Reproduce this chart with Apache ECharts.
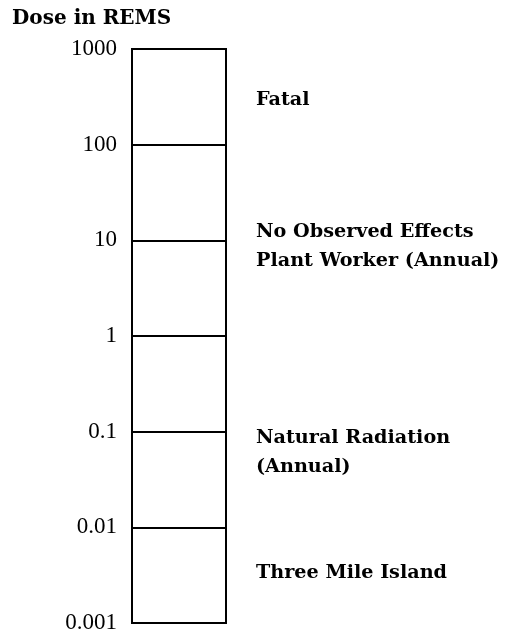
<!DOCTYPE html>
<html>
<head>
<meta charset="utf-8">
<script src="https://cdn.jsdelivr.net/npm/echarts@6/dist/echarts.min.js"></script>
<style>
  html, body { margin: 0; padding: 0; background: #fff; }
  #chart { width: 506px; height: 640px; }
</style>
</head>
<body>
<div id="chart"></div>
<script>
// dose scale (rems), log axis from 0.001 to 1000
const doseMin = 0.001;
const doseMax = 1000;

// annotations placed to the right of the scale
const effectLabels = [
  "Fatal",
  "No Observed Effects\nPlant Worker (Annual)",
  "Natural Radiation\n(Annual)",
  "Three Mile Island"
];
const effectDoses = [290, 8.7, 0.06, 0.0033];

const boldSerif = "'DejaVu Serif', serif";
const tickSerif = "'Liberation Serif', serif";

let myChart = echarts.init(document.getElementById("chart"));

let option = {
  animation: false,
  title: {
    text: "Dose in REMS",
    left: 7,
    top: 4,
    textStyle: {
      fontFamily: boldSerif,
      fontWeight: "bold",
      fontSize: 20,
      color: "#000"
    }
  },
  grid: {
    left: 132,
    right: 280,
    top: 49,
    bottom: 17,
    show: true,
    borderColor: "#000",
    borderWidth: 2,
    backgroundColor: "transparent"
  },
  xAxis: {
    type: "value",
    min: 0,
    max: 1,
    show: false
  },
  yAxis: {
    type: "log",
    logBase: 10,
    min: doseMin,
    max: doseMax,
    axisLine: { show: false },
    axisTick: { show: false },
    splitLine: {
      show: true,
      lineStyle: { color: "#000", width: 2 }
    },
    axisLabel: {
      margin: 15,
      fontFamily: tickSerif,
      fontSize: 23,
      color: "#000",
      padding: [7, 0, 0, 0],
      formatter: function (v) {
        return String(v);
      }
    }
  },
  series: [
    {
      type: "scatter",
      symbolSize: 0,
      silent: true,
      itemStyle: { opacity: 1 },
      data: effectDoses.map((d, i) => ({ value: [1, d], name: effectLabels[i] })),
      label: {
        show: true,
        position: "right",
        distance: 30,
        align: "left",
        formatter: p => p.name,
        fontFamily: boldSerif,
        fontWeight: "bold",
        fontSize: 19.2,
        lineHeight: 29,
        color: "#000"
      }
    }
  ]
};

myChart.setOption(option);
</script>
</body>
</html>
